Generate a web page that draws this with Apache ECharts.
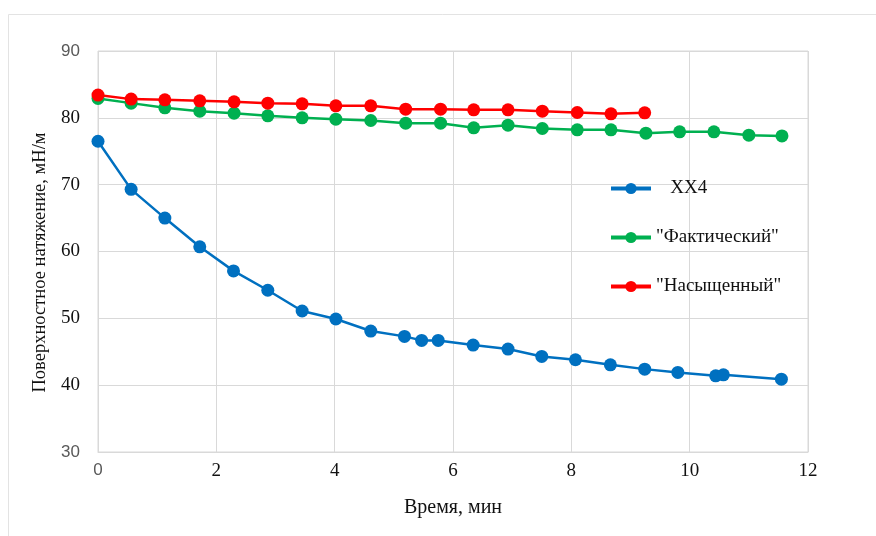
<!DOCTYPE html>
<html><head><meta charset="utf-8">
<script src="https://cdn.jsdelivr.net/npm/echarts@6/dist/echarts.min.js"></script>
<style>html,body{margin:0;padding:0;background:#fff}#c{width:876px;height:536px}</style>
</head><body><div id="c"></div>
<script>
const xx4X = [0, 0.56, 1.13, 1.72, 2.29, 2.87, 3.45, 4.02, 4.61, 5.18, 5.47, 5.75, 6.34, 6.93, 7.50, 8.07, 8.66, 9.24, 9.80, 10.44, 10.57, 11.55];
const xx4Y = [76.5, 69.3, 65.0, 60.7, 57.1, 54.2, 51.1, 49.9, 48.1, 47.3, 46.7, 46.7, 46.0, 45.4, 44.3, 43.8, 43.05, 42.4, 41.9, 41.4, 41.55, 40.9];
const factX = [0, 0.56, 1.13, 1.72, 2.30, 2.87, 3.45, 4.02, 4.61, 5.20, 5.79, 6.35, 6.93, 7.51, 8.10, 8.67, 9.26, 9.83, 10.41, 11.0, 11.56];
const factY = [82.9, 82.2, 81.5, 81.0, 80.7, 80.3, 80.0, 79.8, 79.6, 79.2, 79.2, 78.5, 78.9, 78.4, 78.2, 78.2, 77.7, 77.9, 77.9, 77.4, 77.3];
const satX = [0, 0.56, 1.13, 1.72, 2.30, 2.87, 3.45, 4.02, 4.61, 5.20, 5.79, 6.35, 6.93, 7.51, 8.10, 8.67, 9.24];
const satY = [83.4, 82.8, 82.7, 82.55, 82.4, 82.2, 82.1, 81.8, 81.8, 81.3, 81.3, 81.2, 81.2, 81.0, 80.8, 80.6, 80.75];
const seriesNames = ['XX4', '"Фактический"', '"Насыщенный"'];
const xTitle = 'Время, мин';
const yTitle = 'Поверхностное натяжение, мН/м';

const zip = (xs, ys) => xs.map((x, i) => [x, ys[i]]);
const serif = '"Liberation Serif", "DejaVu Serif", serif';
const sans = '"Liberation Sans", "DejaVu Sans", sans-serif';
const chart = echarts.init(document.getElementById('c'));
const mk = (name, data, color) => ({
  name, type: 'line', data, symbol: 'circle', symbolSize: 13,
  lineStyle: { color, width: 2.5 }, itemStyle: { color }
});
const rich = { s: { fontFamily: sans, fontSize: 17, color: '#595959' }, r: { fontFamily: serif, fontSize: 19, color: '#111' } };
chart.setOption({
  animation: false,
  backgroundColor: '#fff',
  graphic: [{ type: 'rect', shape: { x: 8.5, y: 14.5, width: 900, height: 600 }, style: { fill: 'none', stroke: '#e3e3e3', lineWidth: 1 }, silent: true }],
  grid: { left: 98, right: 68, top: 51, bottom: 84, show: true, borderColor: '#d9d9d9', borderWidth: 1 },
  legend: {
    orient: 'vertical', left: 609, top: 179, padding: 0, itemGap: 30, itemWidth: 40, itemHeight: 14,
    data: seriesNames,
    lineStyle: { width: 4 },
    formatter: n => n === 'XX4' ? '   XX4' : n,
    textStyle: { fontFamily: serif, fontSize: 19, color: '#111' }
  },
  xAxis: {
    type: 'value', min: 0, max: 12, interval: 2,
    name: xTitle, nameLocation: 'middle', nameGap: 46,
    nameTextStyle: { fontFamily: serif, fontSize: 20, color: '#111' },
    axisLine: { show: true, lineStyle: { color: '#d9d9d9' } },
    axisTick: { show: false },
    splitLine: { lineStyle: { color: '#d9d9d9' } },
    axisLabel: {
      margin: 10,
      formatter: v => v === 0 ? '{s|0}' : '{r|' + v + '}',
      rich
    }
  },
  yAxis: {
    type: 'value', min: 30, max: 90, interval: 10,
    name: yTitle, nameLocation: 'middle', nameGap: 38,
    nameTextStyle: { fontFamily: serif, fontSize: 18.5, color: '#111', padding: [0, 22, 0, 0] },
    axisLine: { show: false }, axisTick: { show: false },
    splitLine: { lineStyle: { color: '#d9d9d9' } },
    axisLabel: {
      margin: 18,
      formatter: v => (v === 30 || v === 90) ? '{s|' + v + '}' : '{r|' + v + '}',
      rich
    }
  },
  series: [
    mk(seriesNames[0], zip(xx4X, xx4Y), '#0070C0'),
    mk(seriesNames[1], zip(factX, factY), '#00B050'),
    mk(seriesNames[2], zip(satX, satY), '#FF0000')
  ]
});
</script></body></html>
